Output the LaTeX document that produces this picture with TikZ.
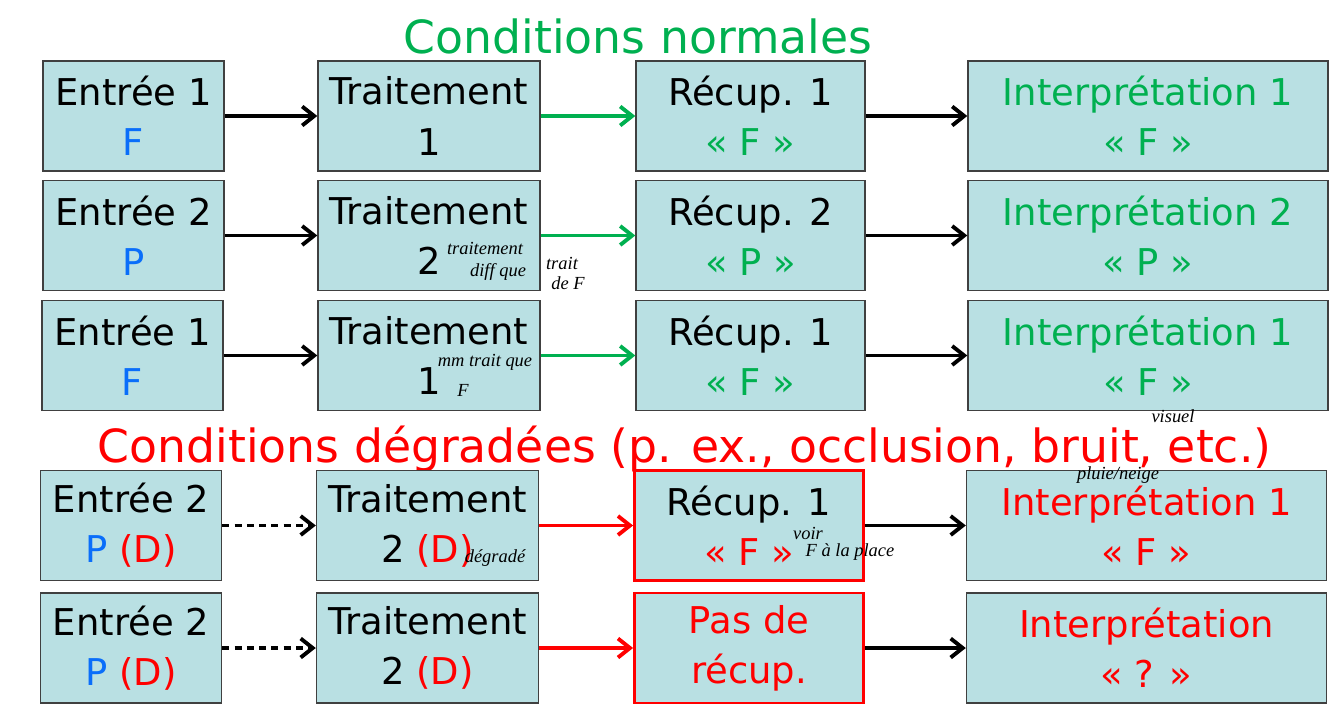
\documentclass[tikz,border=0pt]{standalone}
\usepackage{fontspec}
\setmainfont{DejaVu Sans}
\newfontfamily\handfont{Liberation Serif}
\usetikzlibrary{arrows.meta}
\definecolor{boxfill}{RGB}{185,224,227}
\definecolor{okgreen}{RGB}{0,176,80}
\definecolor{inblue}{RGB}{10,110,250}
\definecolor{badred}{RGB}{255,0,0}

\begin{document}
\begin{tikzpicture}[
  box/.style={draw=black!75, line width=0.8pt, fill=boxfill, inner sep=0pt,
    minimum height=2.2cm, align=center, font=\fontsize{21}{28.5}\selectfont},
  inbox/.style={box, minimum width=3.62cm},
  procbox/.style={box, minimum width=4.44cm},
  recbox/.style={box, minimum width=4.58cm},
  interbox/.style={box, minimum width=7.2cm},
  badbox/.style={draw=badred, line width=1.6pt},
  flow/.style={line width=2.2pt, -{Straight Barb[length=2.4mm,width=3.8mm]}},
  title/.style={font=\fontsize{26}{30}\selectfont, anchor=base},
  hand/.style={font=\handfont\itshape\fontsize{10.5}{12}\selectfont, inner sep=0pt}
]
\useasboundingbox (0,0) rectangle (26.68,-14.08);

% Titles
\node[title, text=okgreen] (normal) at (12.76,-1.06) {Conditions normales};
\node[title, text=badred] (degrade) at (13.69,-9.24) {Conditions dégradées (p. ex., occlusion, bruit, etc.)};

% Row 1
\node[inbox] (e1) at (2.67,-2.32) {Entrée 1\\\textcolor{inblue}{F}};
\node[procbox] (t1) at (8.58,-2.32) {Traitement\\1};
\node[recbox] (r1) at (15.01,-2.32) {Récup. 1\\\textcolor{okgreen}{« F »}};
\node[interbox, text=okgreen] (i1) at (22.96,-2.32) {Interprétation 1\\« F »};

% Row 2
\node[inbox] (e2) at (2.67,-4.71) {Entrée 2\\\textcolor{inblue}{P}};
\node[procbox] (t2) at (8.58,-4.71) {Traitement\\2};
\node[recbox] (r2) at (15.01,-4.71) {Récup. 2\\\textcolor{okgreen}{« P »}};
\node[interbox, text=okgreen] (i2) at (22.96,-4.71) {Interprétation 2\\« P »};

% Row 3
\node[inbox] (e3) at (2.65,-7.11) {Entrée 1\\\textcolor{inblue}{F}};
\node[procbox] (t3) at (8.58,-7.11) {Traitement\\1};
\node[recbox] (r3) at (15.01,-7.11) {Récup. 1\\\textcolor{okgreen}{« F »}};
\node[interbox, text=okgreen] (i3) at (22.96,-7.11) {Interprétation 1\\« F »};

% Row 4 (degraded)
\node[inbox] (e4) at (2.62,-10.51) {Entrée 2\\\textcolor{inblue}{P} \textcolor{badred}{(D)}};
\node[procbox] (t4) at (8.55,-10.51) {Traitement\\2 \textcolor{badred}{(D)}};
\node[recbox, badbox] (r4) at (14.98,-10.51) {Récup. 1\\\textcolor{badred}{« F »}};
\node[interbox, text=badred] (i4) at (22.93,-10.51) {Interprétation 1\\« F »};

% Row 5 (degraded)
\node[inbox] (e5) at (2.62,-12.96) {Entrée 2\\\textcolor{inblue}{P} \textcolor{badred}{(D)}};
\node[procbox] (t5) at (8.55,-12.96) {Traitement\\2 \textcolor{badred}{(D)}};
\node[recbox, badbox, text=badred] (r5) at (14.98,-12.96) {Pas de\\récup.};
\node[interbox, text=badred] (i5) at (22.93,-12.96) {Interprétation\\« ? »};

% Arrows
\foreach \n in {1,2,3} {
  \draw[flow] (e\n.east) -- (t\n.west);
  \draw[flow, okgreen] (t\n.east) -- (r\n.west);
  \draw[flow] (r\n.east) -- (i\n.west);
}
\foreach \n in {4,5} {
  \draw[flow, dash pattern=on 4pt off 3pt] (e\n.east) -- (t\n.west);
  \draw[flow, badred] (t\n.east) -- (r\n.west);
  \draw[flow] (r\n.east) -- (i\n.west);
}

% Handwritten notes
\node[hand] (n1) at (9.70,-4.96) {traitement};
\node[hand] (n2) at (9.96,-5.44) {diff que};
\node[hand] (n3) at (11.24,-5.26) {trait};
\node[hand] (n4) at (11.36,-5.66) {de F};
\node[hand] (n5) at (9.70,-7.24) {mm trait que};
\node[hand] (n6) at (9.26,-7.80) {F};
\node[hand] (n7) at (23.46,-8.32) {visuel};
\node[hand] (n8) at (22.36,-9.50) {pluie/neige};
\node[hand] (n9) at (9.90,-11.16) {dégradé};
\node[hand] (n10) at (16.16,-10.66) {voir};
\node[hand] (n11) at (17.00,-11.04) {F à la place};

\end{tikzpicture}
\end{document}
